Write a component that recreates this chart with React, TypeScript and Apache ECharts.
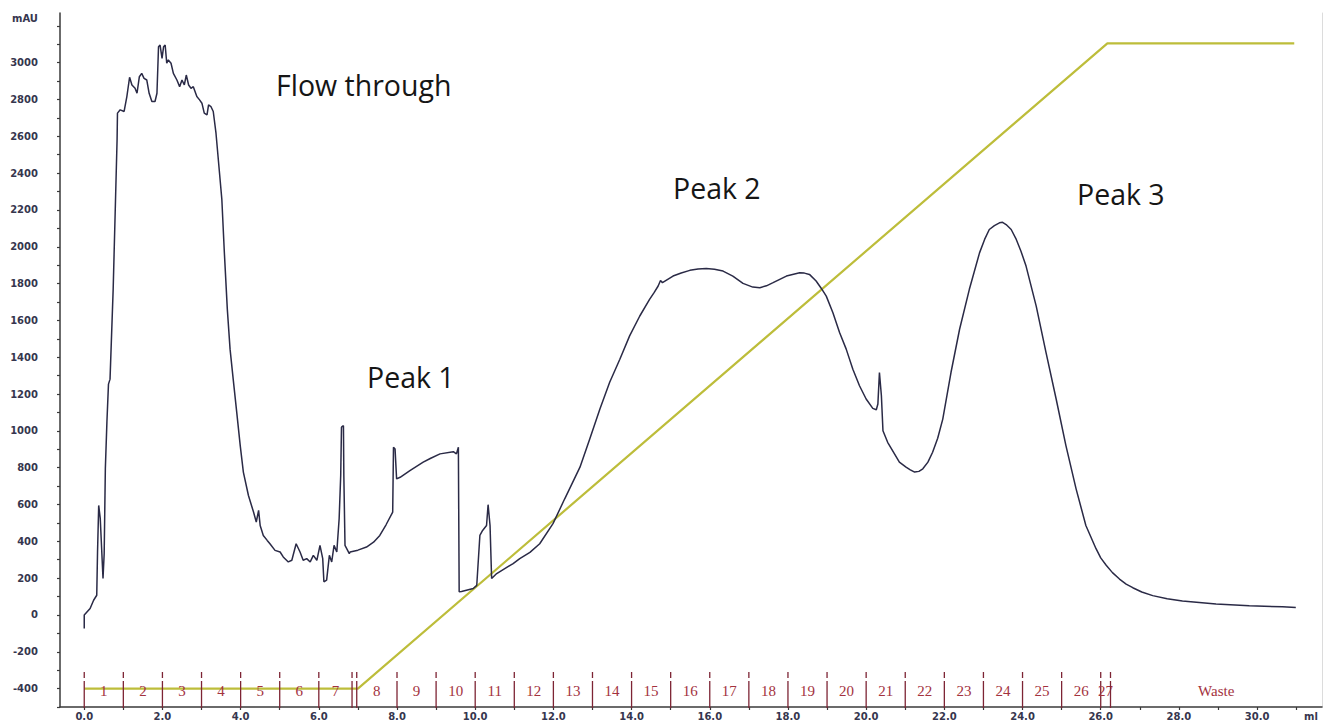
import React, { useEffect, useRef } from "react";
import * as echarts from "echarts";

// UV trace (mAU) against elution volume (ml)
const uvVolume = [
  0.0, 0.0, 0.15, 0.24, 0.32, 0.34, 0.37, 0.41, 0.48, 0.51, 0.54, 0.58, 0.62, 0.66, 0.74, 0.8, 0.84, 0.85,
  0.92, 1.02, 1.09, 1.16, 1.22, 1.3, 1.35, 1.41, 1.47, 1.53, 1.6, 1.66, 1.73, 1.81, 1.86, 1.9, 1.94, 1.99,
  2.03, 2.07, 2.11, 2.15, 2.22, 2.28, 2.37, 2.44, 2.5, 2.56, 2.61, 2.67, 2.73, 2.79, 2.88, 2.95, 3.01, 3.07,
  3.14, 3.18, 3.24, 3.3, 3.37, 3.46, 3.52, 3.58, 3.66, 3.73, 3.81, 3.9, 3.99, 4.07, 4.2, 4.33, 4.4, 4.46,
  4.5, 4.58, 4.68, 4.75, 4.88, 5.01, 5.09, 5.22, 5.31, 5.42, 5.52, 5.6, 5.69, 5.78, 5.86, 5.95, 6.03, 6.1,
  6.13, 6.2, 6.27, 6.33, 6.39, 6.46, 6.52, 6.56, 6.58, 6.63, 6.64, 6.67, 6.78, 6.8, 7.0, 7.22, 7.4, 7.56, 7.72,
  7.89, 7.91, 7.95, 7.99, 8.08, 8.33, 8.67, 8.85, 9.1, 9.44, 9.52, 9.57, 9.59, 9.65, 9.95, 10.04, 10.12,
  10.19, 10.29, 10.33, 10.38, 10.42, 10.55, 10.97, 11.14, 11.4, 11.65, 11.99, 12.29, 12.68, 12.93, 13.19,
  13.44, 13.7, 13.95, 14.21, 14.46, 14.58, 14.68, 14.74, 14.79, 15.06, 15.27, 15.49, 15.7, 15.91, 16.12,
  16.34, 16.59, 16.85, 17.1, 17.28, 17.45, 17.62, 17.96, 18.3, 18.42, 18.55, 18.72, 18.85, 18.98, 19.15,
  19.32, 19.49, 19.66, 19.83, 20.0, 20.17, 20.26, 20.3, 20.34, 20.39, 20.43, 20.55, 20.85, 21.02, 21.13,
  21.24, 21.35, 21.45, 21.58, 21.7, 21.83, 21.96, 22.17, 22.39, 22.64, 22.9, 23.03, 23.15, 23.28, 23.41,
  23.49, 23.58, 23.71, 23.84, 23.96, 24.09, 24.35, 24.6, 24.86, 25.11, 25.37, 25.62, 25.88, 26.0, 26.14,
  26.3, 26.48, 26.65, 26.82, 27.05, 27.33, 27.7, 28.09, 28.95, 29.8, 30.65, 30.99,
];
const uvAbsorbance = [
  -73, 0, 35, 80, 107, 342, 595, 523, 198, 333, 794, 1048, 1254, 1281, 1769, 2256, 2581, 2726,
  2744, 2735, 2816, 2921, 2879, 2861, 2834, 2924, 2942, 2915, 2906, 2834, 2789, 2789, 2834, 3087, 3096, 3024,
  3087, 3096, 2997, 3015, 2997, 2942, 2906, 2870, 2906, 2879, 2933, 2879, 2861, 2870, 2816, 2798, 2780, 2726,
  2717, 2771, 2762, 2735, 2617, 2401, 2256, 1985, 1660, 1444, 1281, 1102, 920, 776, 649, 559, 505, 568,
  486, 432, 405, 387, 351, 342, 315, 288, 297, 387, 342, 297, 306, 288, 324, 297, 378, 306,
  180, 189, 324, 288, 378, 342, 523, 757, 1020, 1028, 757, 378, 333, 342, 352, 369, 395, 432, 490,
  559, 911, 902, 739, 748, 784, 830, 850, 875, 887, 875, 911, 126, 127, 144, 161, 432,
  459, 486, 599, 486, 198, 225, 279, 306, 340, 387, 496, 631, 803, 956, 1119,
  1264, 1389, 1516, 1624, 1714, 1752, 1787, 1817, 1805, 1841, 1858, 1872, 1879, 1882, 1878,
  1868, 1841, 1801, 1781, 1778, 1788, 1805, 1841, 1859, 1857, 1850, 1814, 1775, 1732, 1642,
  1534, 1444, 1335, 1245, 1173, 1122, 1115, 1146, 1317, 1191, 1001, 938, 830, 803, 788,
  776, 780, 794, 830, 884, 960, 1064, 1317, 1552, 1769, 1967, 2040, 2094, 2115, 2130,
  2133, 2121, 2094, 2040, 1976, 1895, 1678, 1426, 1173, 920, 685, 486, 360, 310, 270,
  230, 195, 168, 148, 125, 105, 88, 76, 60, 50, 44, 40,
];

// Gradient (%B) against volume
const gradientVolume = [0, 7.0, 26.17, 30.95];
const gradientPercentB = [0, 0, 100, 100];

// Fractions
const fractionStarts = [
  0, 1, 2, 3, 4, 5, 6, 6.85, 6.97, 8, 9, 10, 11, 12, 13, 14, 15, 16, 17, 18, 19, 20, 21, 22, 23, 24, 25, 26, 26.25,
];
const fractionLabels = [
  "1", "2", "3", "4", "5", "6", "7", "", "8", "9", "10", "11", "12", "13", "14", "15", "16", "17", "18", "19",
  "20", "21", "22", "23", "24", "25", "26", "27", "Waste",
];

// Axis ticks / labels
const xTickValues = [0, 1, 2, 3, 4, 5, 6, 7, 8, 9, 10, 11, 12, 13, 14, 15, 16, 17, 18, 19, 20, 21, 22, 23, 24, 25, 26, 27, 28, 29, 30, 31];
const xLabelValues = [0, 2, 4, 6, 8, 10, 12, 14, 16, 18, 20, 22, 24, 26, 28, 30];
const yTickValues = [
  -500, -400, -300, -200, -100, 0, 100, 200, 300, 400, 500, 600, 700, 800, 900, 1000, 1100, 1200, 1300, 1400,
  1500, 1600, 1700, 1800, 1900, 2000, 2100, 2200, 2300, 2400, 2500, 2600, 2700, 2800, 2900, 3000, 3100, 3200,
];
const yLabelValues = [-400, -200, 0, 200, 400, 600, 800, 1000, 1200, 1400, 1600, 1800, 2000, 2200, 2400, 2600, 2800, 3000];

const X_MIN = -0.62;
const X_MAX = 31.66;
const Y_MIN = -500;
const Y_MAX = 3270;
// hidden gradient axis aligned so 0% sits at -400 mAU and 100% at ~3105 mAU
const B_PER_MAU = 100 / 3505;
const B_MIN = (Y_MIN + 400) * B_PER_MAU;
const B_MAX = (Y_MAX + 400) * B_PER_MAU;

const axisFont = "DejaVu Sans";
const axisColor = "#36364e";

export default function App() {
  const ref = useRef<HTMLDivElement>(null);

  useEffect(() => {
    if (!ref.current) return;
    const chart = echarts.init(ref.current, undefined, { renderer: "svg" });

    const fractionData = fractionStarts.map((s, i) => [
      s,
      i < fractionStarts.length - 1 ? fractionStarts[i + 1] : X_MAX,
      -400,
    ]);

    const option: any = {
      animation: false,
      backgroundColor: "#ffffff",
      grid: { left: 60, right: 8, top: 13, bottom: 13, containLabel: false },
      xAxis: {
        type: "value",
        min: X_MIN,
        max: X_MAX,
        axisLine: { show: true, onZero: false, lineStyle: { color: "#3a3a3a", width: 1.5 } },
        axisTick: { show: true, customValues: xTickValues, length: 3, lineStyle: { color: "#3a3a3a", width: 1.2 } },
        axisLabel: {
          customValues: xLabelValues,
          formatter: (v: number) => v.toFixed(1),
          margin: 4,
          color: axisColor,
          fontFamily: axisFont,
          fontWeight: "bold",
          fontSize: 10,
        },
        splitLine: { show: false },
      },
      yAxis: [
        {
          type: "value",
          min: Y_MIN,
          max: Y_MAX,
          axisLine: { show: true, onZero: false, lineStyle: { color: "#3a3a3a", width: 1.5 } },
          axisTick: { show: true, customValues: yTickValues, length: 3, lineStyle: { color: "#3a3a3a", width: 1.2 } },
          axisLabel: {
            customValues: yLabelValues,
            formatter: (v: number) => String(v),
            margin: 22,
            color: axisColor,
            fontFamily: axisFont,
            fontWeight: "bold",
            fontSize: 10,
          },
          splitLine: { show: false },
        },
        {
          type: "value",
          position: "right",
          min: B_MIN,
          max: B_MAX,
          axisLine: { show: true, onZero: false, lineStyle: { color: "#dcdcdc", width: 1 } },
          axisTick: { show: false },
          axisLabel: { show: false },
          splitLine: { show: false },
        },
      ],
      series: [
        {
          name: "Gradient",
          type: "line",
          yAxisIndex: 1,
          data: gradientVolume.map((v, i) => [v, gradientPercentB[i]]),
          showSymbol: false,
          lineStyle: { color: "#bdbd3a", width: 2.2 },
          z: 2,
        },
        {
          name: "UV",
          type: "line",
          data: uvVolume.map((v, i) => [v, uvAbsorbance[i]]),
          showSymbol: false,
          lineStyle: { color: "#2a2a46", width: 1.5 },
          z: 3,
        },
        {
          name: "Fractions",
          type: "custom",
          data: fractionData,
          encode: { x: [0, 1], y: 2 },
          z: 4,
          renderItem: (params: any, api: any) => {
            const x0 = api.value(0);
            const x1 = api.value(1);
            const label = fractionLabels[params.dataIndex];
            const b = api.coord([x0, Y_MIN]);
            const e = api.coord([x1, Y_MIN]);
            const ly = api.coord([x0, api.value(2)])[1];
            const stroke = "#7d2434";
            const children: any[] = [
              { type: "line", shape: { x1: b[0], y1: b[1] - 26, x2: b[0], y2: b[1] + 1 }, style: { stroke, lineWidth: 1.3 } },
              { type: "line", shape: { x1: b[0], y1: b[1] - 35, x2: b[0], y2: b[1] - 29 }, style: { stroke, lineWidth: 1.3 } },
            ];
            if (label) {
              children.push({
                type: "text",
                style: {
                  text: label,
                  x: (b[0] + e[0]) / 2,
                  y: ly + 2,
                  align: "center",
                  verticalAlign: "middle",
                  fill: "#a3323e",
                  fontFamily: "Liberation Serif",
                  fontSize: 15,
                },
              });
            }
            return { type: "group", children };
          },
        },
      ],
      graphic: [
        { type: "text", left: 12, top: 13, style: { text: "mAU", fill: axisColor, fontFamily: axisFont, fontWeight: "bold", fontSize: 10 } },
        { type: "text", left: 1304, top: 711, style: { text: "ml", fill: axisColor, fontFamily: axisFont, fontWeight: "bold", fontSize: 10 } },
        { type: "text", x: 276, y: 85, style: { text: "Flow through", fill: "#161616", fontFamily: "Open Sans", fontSize: 28.5, verticalAlign: "middle" } },
        { type: "text", x: 367, y: 377, style: { text: "Peak 1", fill: "#161616", fontFamily: "Open Sans", fontSize: 28.5, verticalAlign: "middle" } },
        { type: "text", x: 673, y: 188, style: { text: "Peak 2", fill: "#161616", fontFamily: "Open Sans", fontSize: 28.5, verticalAlign: "middle" } },
        { type: "text", x: 1077, y: 194, style: { text: "Peak 3", fill: "#161616", fontFamily: "Open Sans", fontSize: 28.5, verticalAlign: "middle" } },
      ],
    };

    chart.setOption(option);
    return () => chart.dispose();
  }, []);

  return (
    <div
      ref={ref}
      style={{ position: "fixed", left: 0, top: 0, width: 1330, height: 721, background: "#fff" }}
    />
  );
}
